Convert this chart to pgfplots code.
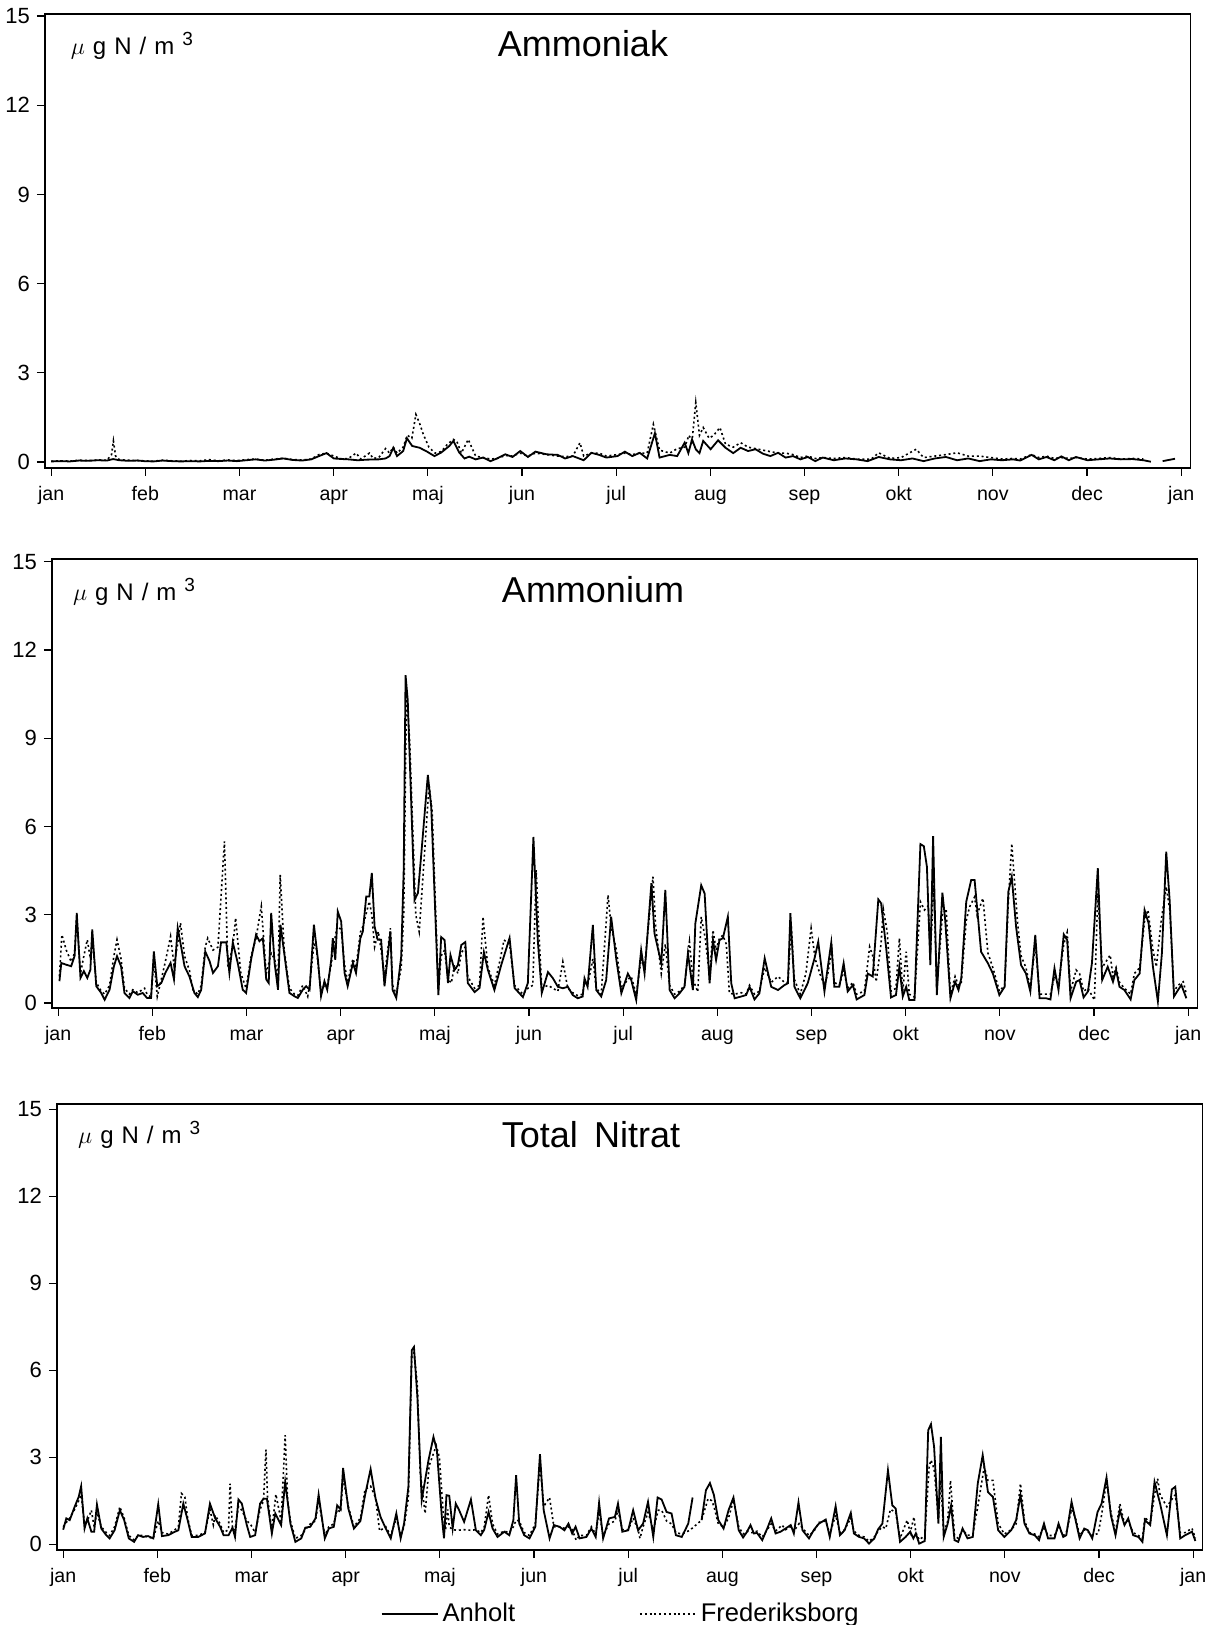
\documentclass[border=0pt]{standalone}
\usepackage{fontspec}
\setmainfont{Liberation Sans}
\usepackage{pgfplots}
\pgfplotsset{compat=1.18}

\pgfplotsset{
  panel/.style={
    scale only axis,
    width=572.75pt,
    xmin=-2, xmax=368,
    axis line style={line width=0.6pt},
    tick align=outside,
    tick pos=left,
    major tick length=4pt,
    every tick/.style={black, line width=0.6pt},
    ytick={0,3,6,9,12,15},
    xtick={0,30.4167,60.8333,91.25,121.6667,152.0833,182.5,212.9167,243.3333,273.75,304.1667,334.5833,365},
    xticklabels={jan,feb,mar,apr,maj,jun,jul,aug,sep,okt,nov,dec,jan},
    /pgf/number format/assume math mode=true,
    yticklabel style={font=\fontsize{11}{13}\selectfont},
    xticklabel style={font=\fontsize{9.8}{11}\selectfont, text height=1.6ex, text depth=0.45ex, yshift=-0.5pt},
    unbounded coords=jump,
  },
  anh/.style={black, line width=0.9pt},
  fre/.style={black, line width=0.8pt, dash pattern=on 1pt off 1.4pt},
}
\newcommand{\unitlabel}{$\mu$\hspace{4pt}g\hspace{4pt}N\hspace{4pt}/\hspace{4pt}m\hspace{4pt}\raisebox{0.75ex}{\fontsize{9.5}{10}\selectfont 3}}

\begin{document}
\begin{tikzpicture}
\useasboundingbox (0,0) rectangle (604pt,812.5pt);

% ---------------- Panel 1: Ammoniak ----------------
\begin{axis}[panel, at={(22.5pt,578.5pt)}, anchor=south west, height=227pt, ymin=-0.2, ymax=15.07]
\addplot[anh] coordinates {
(0,0.02)(3,0.03)(6,0.02)(9,0.05)(12,0.04)(15,0.06)(18,0.05)(20,0.1)(22,0.06)(25,0.04)(28,0.05)(30,0.03)(33,0.02)(36,0.05)(39,0.03)(42,0.02)(45,0.03)(48,0.02)(51,0.04)(54,0.03)(57,0.05)(60,0.03)(63,0.06)(66,0.09)(69,0.05)(72,0.08)(75,0.12)(78,0.07)(81,0.05)(84,0.09)(86.5,0.2)(88.9,0.3)(91.3,0.12)(94,0.1)(96,0.09)(99,0.06)(102,0.08)(105.8,0.09)(108,0.12)(109.3,0.2)(110.5,0.48)(111.7,0.2)(113.7,0.37)(114.9,0.8)(116.6,0.54)(119,0.48)(121.4,0.35)(123.8,0.2)(126,0.32)(128.6,0.54)(129.9,0.71)(131.8,0.32)(133.5,0.12)(135,0.18)(137.1,0.09)(139.5,0.15)(141.9,0.03)(144,0.12)(146.7,0.26)(149,0.17)(151.5,0.37)(154,0.17)(156.4,0.35)(160,0.26)(163.6,0.24)(166,0.12)(168.5,0.2)(172,0.06)(174.5,0.31)(177,0.24)(179.3,0.15)(182.9,0.2)(185.3,0.35)(187.7,0.2)(190.1,0.31)(192.5,0.12)(195,0.97)(196.5,0.15)(199.8,0.24)(202.2,0.2)(204.6,0.65)(205.8,0.3)(207,0.76)(208.2,0.43)(209.4,0.3)(210.6,0.71)(213,0.43)(215.4,0.73)(217.8,0.48)(220.3,0.3)(222.7,0.48)(225.1,0.37)(227.5,0.43)(229.9,0.28)(232.3,0.2)(234.8,0.31)(237.2,0.15)(239.6,0.2)(242,0.09)(244.4,0.17)(246.8,0.03)(249.2,0.15)(252.8,0.06)(256.5,0.12)(260.1,0.09)(263.7,0.03)(267.3,0.17)(270.9,0.09)(274.5,0.06)(278.2,0.12)(281.8,0.03)(285.4,0.12)(289,0.17)(292.6,0.06)(296.2,0.12)(299.9,0.03)(303.5,0.09)(307.1,0.06)(310.7,0.09)(313,0.05)(316.7,0.24)(319,0.09)(321.5,0.17)(324,0.06)(326.3,0.19)(328.7,0.06)(331,0.17)(334.7,0.06)(338.3,0.09)(341.9,0.12)(345.5,0.09)(349.2,0.1)(352.8,0.06)(355.2,0.01)(356,nan)(359,0.03)(361,0.07)(363,0.11)
};
\addplot[fre] coordinates {
(0,0.03)(3,0.04)(6,0.03)(9,0.06)(12,0.05)(15,0.07)(18,0.06)(19.5,0.25)(20.1,0.71)(20.8,0.2)(22,0.08)(25,0.06)(28,0.05)(30,0.04)(33,0.03)(36,0.06)(39,0.04)(42,0.03)(45,0.05)(48,0.04)(51,0.08)(54,0.04)(57,0.07)(60,0.05)(63,0.08)(66,0.1)(69,0.06)(72,0.1)(75,0.13)(78,0.08)(81,0.07)(84,0.1)(86.5,0.25)(88.9,0.3)(91.3,0.2)(94,0.1)(96,0.12)(98.5,0.3)(100,0.1)(102.8,0.3)(104,0.12)(105.8,0.15)(108,0.45)(109.3,0.3)(110.5,0.5)(111.7,0.3)(113.7,0.5)(115,0.9)(116.5,0.8)(117.8,1.6)(119,1.3)(120.2,0.93)(122,0.5)(124,0.3)(126,0.35)(128,0.6)(129.9,0.76)(131,0.7)(132.5,0.3)(134.7,0.76)(135.8,0.5)(137.1,0.2)(139.5,0.15)(141.9,0.1)(144,0.12)(146.7,0.22)(149,0.2)(151.5,0.3)(154,0.2)(156.4,0.3)(160,0.25)(163.6,0.2)(166,0.18)(168.5,0.2)(170.8,0.65)(172,0.2)(174.5,0.3)(177,0.3)(179.3,0.2)(182.9,0.25)(185.3,0.3)(187.7,0.25)(190.1,0.3)(192.5,0.3)(194.5,1.27)(196.5,0.4)(199.8,0.3)(202.2,0.45)(204.6,0.5)(206,0.9)(207,0.7)(208.2,2.0)(209.4,0.9)(210.6,1.16)(212.5,0.8)(214,0.9)(216,1.16)(217.8,0.6)(220.3,0.5)(222.7,0.65)(225.1,0.5)(227.5,0.45)(229.9,0.4)(232.3,0.35)(234.8,0.3)(237.2,0.3)(239.6,0.25)(242,0.15)(244.4,0.2)(246.8,0.12)(249.2,0.15)(252.8,0.12)(256.5,0.15)(260.1,0.1)(264.9,0.1)(267.3,0.31)(270.9,0.12)(274.5,0.15)(279.4,0.43)(281.8,0.15)(285.4,0.2)(289,0.25)(292.6,0.31)(296.2,0.2)(299.9,0.2)(303.5,0.15)(307.1,0.1)(310.7,0.12)(313,0.1)(316.7,0.25)(319,0.15)(321.5,0.2)(324,0.12)(326.3,0.15)(328.7,0.12)(331,0.15)(334.7,0.1)(338.3,0.12)(341.9,0.15)(345.5,0.1)(349.2,0.12)(352.8,0.1)
};
\end{axis}

% ---------------- Panel 2: Ammonium ----------------
\begin{axis}[panel, at={(26pt,308.5pt)}, anchor=south west, height=224.5pt, ymin=-0.17, ymax=15.09]
\addplot[anh] coordinates {
(0.4,0.74)(1,1.36)(2.6,1.3)(4.2,1.25)(5.3,1.6)(6,3.06)(7.2,0.85)(8.3,1.08)(9.4,0.85)(10.4,1.13)(11,2.5)(12.3,0.57)(13.9,0.34)(15,0.11)(16.6,0.45)(18,1.25)(19,1.59)(20.3,1.25)(21.4,0.34)(23,0.17)(24.1,0.4)(25.7,0.28)(27.3,0.34)(28.7,0.17)(30,0.17)(30.9,1.75)(32,0.57)(33.3,0.68)(34.6,1.02)(36.3,1.36)(37.4,0.8)(38.6,2.55)(39.7,1.92)(40.8,1.25)(42.4,0.9)(44,0.34)(45.1,0.2)(46.2,0.45)(47.5,1.75)(48.9,1.42)(50,1.02)(51.6,1.25)(52.6,2.06)(54.3,2.06)(55.3,1.02)(56.4,2.06)(58,1.36)(59.6,0.45)(60.7,0.34)(62.3,1.47)(63.9,2.32)(65,2.1)(66.1,2.2)(67.2,0.8)(68,0.68)(68.8,3.06)(69.9,1.36)(71,0.45)(71.8,2.66)(73,1.7)(74.7,0.34)(76.3,0.23)(77.4,0.17)(79,0.45)(80.1,0.57)(81.2,0.45)(82.6,2.66)(83.9,1.47)(84.9,0.23)(86,0.74)(86.9,0.45)(88.2,1.47)(88.7,2.2)(89.5,1.47)(90.3,3.11)(91.4,2.77)(92.5,1.02)(93.5,0.57)(95.2,1.36)(96.2,1.02)(97.6,2.2)(98.4,2.43)(99.5,3.62)(100.5,3.62)(101.3,4.42)(102.2,2.6)(103.2,2.15)(104.3,2.15)(105.4,0.57)(107.3,2.43)(108,0.45)(109.2,0.17)(110.8,1.59)(111.6,4.53)(112.2,11.14)(112.9,10.3)(115.1,3.5)(116.2,3.74)(117.2,4.96)(119.4,7.75)(120.5,6.66)(122.8,0.27)(123.7,2.24)(124.8,2.14)(125.9,0.68)(126.7,1.63)(128,1.12)(129.1,1.29)(130.2,1.97)(131.5,2.07)(132.3,0.68)(134.5,0.37)(136.1,0.51)(137.5,1.73)(138.8,1.12)(140.9,0.44)(143.1,1.29)(145.8,2.21)(147.4,0.51)(150.1,0.2)(151.7,0.68)(153.5,5.64)(154.9,2.14)(156.2,0.34)(158.2,1.05)(159.8,0.84)(161.4,0.55)(163,0.5)(164.6,0.55)(166.2,0.27)(167.8,0.16)(169.4,0.22)(170,0.84)(171,0.55)(172.7,2.65)(173.8,0.44)(175.4,0.22)(177,0.78)(178.6,2.93)(180.3,1.46)(181.9,0.33)(184,1.0)(185.1,0.78)(186.7,0.1)(188.3,1.8)(189.4,1.0)(191.6,4.07)(192.6,2.37)(194.8,1.35)(196.1,3.84)(197.5,0.44)(199.1,0.16)(200.7,0.33)(202.3,0.55)(203.4,1.69)(205,0.44)(205.8,2.7)(207.7,4.0)(208.8,3.72)(210.4,0.67)(211.5,2.14)(212.5,1.46)(213.6,2.14)(214.7,2.2)(216.3,2.93)(217.4,0.67)(218.5,0.16)(220.6,0.22)(222.2,0.27)(223.3,0.55)(224.9,0.12)(226.5,0.33)(228.2,1.52)(230.3,0.55)(232.5,0.44)(234.6,0.61)(235.7,0.67)(236.5,3.05)(237.8,0.55)(239.7,0.16)(242.1,0.67)(244.3,1.52)(245.5,2.08)(247.5,0.39)(248.6,1.23)(249.7,2.05)(250.7,0.55)(252.3,0.55)(253.7,1.35)(255,0.39)(256.7,0.61)(257.9,0.12)(260.4,0.27)(261.5,1.0)(263.1,0.9)(264.9,3.52)(265.8,3.39)(267.4,1.91)(269,0.19)(270.6,0.27)(271.7,1.23)(272.8,0.22)(273.9,0.55)(274.9,0.1)(276.6,0.1)(278.5,5.4)(279.6,5.33)(280.6,4.63)(281.7,1.29)(282.6,5.67)(283.8,0.27)(285.6,3.75)(286.5,2.82)(288.2,0.16)(289.7,0.72)(290.8,0.44)(291.7,0.84)(293.3,3.44)(294.9,4.18)(296,4.18)(298.1,1.74)(300.3,1.35)(301.9,1.0)(304,0.27)(305.7,0.55)(306.9,3.78)(308,4.29)(309.4,2.59)(311,1.29)(312.6,1.0)(314,0.39)(315.6,2.31)(317,0.16)(319.1,0.16)(320.5,0.12)(321.8,1.18)(323.1,0.44)(324.8,2.33)(325.9,2.14)(327,0.16)(328.8,0.72)(329.9,0.78)(331.2,0.19)(332.6,0.39)(333.9,1.35)(335.8,4.58)(337.2,0.78)(339,1.23)(340.7,0.72)(341.7,1.12)(342.8,0.55)(344.4,0.44)(346.4,0.12)(347.6,0.78)(349.3,1.0)(350.9,3.16)(352.2,2.71)(353.6,1.23)(355.2,0.05)(356.5,1.69)(357.9,5.14)(359,3.5)(360.4,0.22)(361.7,0.44)(362.8,0.61)(364.4,0.16)
};
\addplot[fre] coordinates {
(0.4,0.9)(1.2,2.32)(2.6,1.8)(4.2,1.4)(5.3,1.7)(6,2.9)(7.2,1.0)(8.3,1.6)(9.4,2.15)(10.4,1.5)(11,2.2)(12.3,0.7)(13.9,0.4)(15,0.3)(16.6,0.6)(18,1.6)(19,2.15)(20.3,1.5)(21.4,0.5)(23,0.3)(24.1,0.45)(25.7,0.35)(27.9,0.5)(28.7,0.3)(30,0.2)(30.9,1.5)(32,0.22)(33.3,0.8)(34.6,1.4)(36.3,2.26)(37.4,1.3)(38.6,2.0)(39.5,2.72)(40.8,1.6)(42.4,1.1)(43.5,0.45)(45.1,0.3)(46.2,0.6)(47.5,1.9)(48.3,2.2)(50,1.8)(51.6,1.9)(53.7,5.49)(54.8,1.23)(56.4,1.9)(57.3,2.89)(59,1.0)(60.7,0.5)(62.3,1.6)(63.9,2.2)(65.6,3.28)(67.2,1.0)(68.8,1.69)(69.9,1.5)(71,0.8)(71.7,4.36)(73,1.8)(74.7,0.5)(76.3,0.3)(77.4,0.25)(79,0.6)(80.6,0.22)(81.2,0.6)(82.6,2.0)(83.3,1.91)(84.9,0.4)(86,0.6)(86.9,0.6)(88.2,1.3)(88.7,1.8)(90.1,2.6)(91.4,2.5)(92.5,1.3)(93.5,0.7)(95.2,1.5)(96.2,1.2)(97.6,2.4)(98.4,2.6)(100.5,3.45)(101.3,3.0)(102.2,1.91)(103.4,2.43)(104.3,1.8)(105.4,0.9)(107.3,2.54)(108,0.6)(109.2,0.3)(110.8,1.2)(111.6,3.0)(112.5,10.5)(113.5,9.0)(115.5,3.0)(116.6,2.42)(117.5,3.8)(119.8,7.4)(120.8,6.5)(122.8,0.5)(123.7,1.6)(124.8,1.8)(125.9,0.8)(127,0.68)(128,1.3)(129.1,1.0)(130.2,1.7)(131.5,1.9)(132.3,0.9)(134.5,0.5)(136.1,0.6)(137.2,2.93)(138.8,1.2)(140.9,0.6)(142.8,1.5)(144,2.14)(145.8,2.0)(147.4,0.6)(150.1,0.3)(151.7,0.5)(153.3,0.6)(154.4,4.52)(155.2,2.5)(156.2,0.5)(158.2,0.6)(159.8,0.5)(161.4,0.4)(163,1.4)(164.6,0.5)(166.2,0.35)(167.8,0.25)(169.4,0.3)(170,0.7)(171,0.6)(172.7,1.5)(173.8,0.5)(175.4,0.3)(177.6,3.67)(178.6,2.6)(180.3,1.8)(181.9,0.5)(184,0.8)(185.1,0.9)(186.7,0.3)(188.3,1.5)(189.4,1.2)(192.1,4.29)(193,2.6)(194.8,1.0)(196.1,2.0)(197.5,0.6)(199.1,0.3)(200.7,0.4)(202.3,0.6)(203.9,2.08)(205,0.8)(206.6,0.38)(207.7,2.93)(209,2.2)(210.4,0.9)(211.5,2.48)(212.5,1.8)(213.6,2.2)(214.7,2.3)(215.8,2.0)(216.8,0.33)(218.5,0.3)(220.6,0.35)(222.2,0.3)(223.3,0.6)(224.9,0.3)(226.5,0.4)(228.2,1.2)(230.3,0.7)(232.5,0.9)(234.6,0.7)(235.7,0.7)(236.8,2.6)(237.8,0.8)(239.7,0.3)(241.5,1.0)(243.2,2.54)(244.5,1.5)(246,1.0)(247.5,0.6)(248.6,1.0)(249.9,1.8)(250.7,0.7)(252.3,0.6)(253.7,1.1)(255,0.5)(256.7,0.7)(257.9,0.3)(260.4,0.4)(262.1,1.91)(263.1,1.6)(264.2,0.72)(265.8,2.03)(266.5,3.2)(267.8,2.4)(269,0.4)(270.6,0.5)(271.7,2.2)(272.8,0.4)(273.9,1.74)(274.9,0.3)(276.6,0.2)(278.5,3.44)(279.8,3.16)(281,3.3)(281.7,1.6)(282.8,4.0)(283.8,0.5)(285.6,3.0)(286.8,3.2)(288.2,0.3)(289.7,0.9)(290.8,0.6)(291.7,0.7)(293.3,2.8)(294.4,3.27)(296,3.6)(296.8,3.0)(298.7,3.56)(300.3,1.7)(301.9,1.2)(304,0.4)(305.7,0.6)(306.9,3.4)(308,5.42)(309.9,2.71)(311,1.6)(312.6,1.2)(314,0.5)(315.6,2.0)(317,0.3)(319.1,0.3)(320.5,0.3)(321.8,0.9)(323.1,0.6)(324.8,2.0)(325.9,2.4)(327,0.4)(328.8,1.12)(329.9,1.0)(331.2,0.4)(332.6,0.5)(334.7,0.1)(335.8,3.73)(337.2,1.2)(339.8,1.63)(340.7,0.9)(341.7,1.2)(342.8,0.7)(344.4,0.5)(346.4,0.3)(347.6,1.0)(349.3,1.2)(350.9,2.8)(352,3.16)(353.6,1.8)(354.7,1.23)(356.3,2.82)(357.9,3.95)(359,3.2)(360.4,0.4)(361.7,0.6)(363.4,0.72)(364.4,0.3)
};
\end{axis}

% ---------------- Panel 3: Total Nitrat ----------------
\begin{axis}[panel, at={(28.5pt,37.5pt)}, anchor=south west, height=223pt, ymin=-0.2, ymax=15.18,
  legend style={at={(axis description cs:0.493,-0.143)}, anchor=center, draw=none, fill=none,
    legend columns=2, font=\fontsize{12.8}{14}\selectfont,
    /tikz/every even column/.append style={column sep=60pt}},
  legend image code/.code={\draw[#1] (0pt,0pt) -- (28pt,0pt);}]
\addplot[anh] coordinates {
(0,0.5)(1,0.89)(2.1,0.83)(3.7,1.29)(5,1.63)(5.8,2.0)(6.9,0.54)(7.8,0.89)(9.1,0.43)(10,0.43)(10.9,1.37)(12.3,0.54)(13.9,0.31)(15,0.2)(16.6,0.48)(18.3,1.17)(19.7,0.83)(21.2,0.2)(22.9,0.08)(24.2,0.31)(25.8,0.25)(27.4,0.28)(29.1,0.2)(30.7,1.38)(31.9,0.28)(33.9,0.31)(36.1,0.43)(37.2,0.48)(38.8,1.4)(40.2,0.83)(41.5,0.25)(43.6,0.25)(45.8,0.37)(47.4,1.4)(49.1,0.89)(50.7,0.6)(51.8,0.31)(53.4,0.31)(54.7,0.57)(55.5,0.25)(56.6,1.54)(57.7,1.4)(59.3,0.66)(60.4,0.25)(62,0.31)(63.6,1.4)(64.7,1.57)(65.8,1.57)(67.4,0.37)(68.5,1.06)(70.4,0.66)(71.7,2.15)(73.4,0.71)(75,0.08)(76.9,0.2)(78.2,0.57)(79.8,0.6)(81.5,0.89)(82.5,1.71)(84.5,0.2)(85.8,0.54)(87.4,0.6)(88.5,1.34)(89.6,1.2)(90.4,2.63)(92.1,1.23)(93.9,0.54)(96,0.8)(97.5,1.69)(99.3,2.59)(100.9,1.57)(102.5,0.94)(104.2,0.54)(105.8,0.2)(107.6,1.06)(109,0.2)(110.1,0.71)(111.5,1.98)(112.6,6.69)(113.3,6.8)(114.4,5.08)(115.8,1.52)(118,2.9)(119.6,3.7)(120.7,3.24)(122.3,0.94)(123,0.2)(123.8,1.69)(124.7,1.67)(125.8,0.54)(126.8,1.4)(127.9,1.17)(129.5,0.77)(131.7,1.54)(133.3,0.48)(134.9,0.31)(136,0.5)(137.4,1.11)(138.7,0.54)(140.3,0.25)(142.5,0.43)(144.1,0.31)(145.4,0.83)(146.3,2.38)(147.3,0.71)(148.9,0.31)(150.6,0.2)(152.5,0.6)(154,3.1)(155.2,1.17)(157.1,0.2)(158.5,0.66)(160.3,0.6)(161.9,0.48)(163.2,0.71)(164.4,0.37)(165.5,0.6)(166.8,0.2)(169,0.25)(170.6,0.54)(172,0.25)(173.1,1.43)(174.4,0.2)(176.3,0.89)(178.2,0.94)(179.2,1.4)(180.6,0.43)(182.5,0.48)(184.1,1.17)(185.7,0.48)(187.3,0.71)(188.9,1.46)(190.6,0.25)(192,1.61)(193.3,1.54)(194.9,1.11)(196.5,1.06)(197.9,0.31)(199.8,0.25)(201.9,0.71)(203.3,1.61)(204,nan)(206.2,0.83)(207.6,1.86)(208.9,2.11)(210.2,1.69)(211.6,0.83)(213.3,0.54)(214.9,1.17)(216.5,1.61)(218.2,0.48)(219.6,0.23)(220.9,0.43)(222,0.66)(223.1,0.37)(224.1,0.39)(225.8,0.14)(227.4,0.54)(228.7,0.89)(230.1,0.37)(231.7,0.43)(233.3,0.54)(235,0.66)(236,0.37)(237.5,1.44)(238.8,0.48)(240.9,0.2)(242.5,0.5)(244.1,0.71)(246.3,0.85)(247.6,0.25)(249.5,1.31)(250.9,0.31)(252.4,0.48)(254.4,1.08)(255.4,0.37)(257.1,0.25)(258.7,0.2)(260.3,0.02)(262,0.2)(263.2,0.51)(264.6,0.71)(266.4,2.55)(267.8,1.34)(268.9,1.23)(270.3,0.08)(272.1,0.25)(273.6,0.43)(274.6,0.2)(275.4,0.37)(276.5,0.02)(278.3,0.11)(279.4,3.93)(280.3,4.14)(281.3,3.36)(282.7,0.71)(283.5,3.7)(284.4,0.25)(285.7,0.71)(286.8,1.34)(287.9,0.14)(289.1,0.08)(290.5,0.54)(292.1,0.2)(293.8,0.25)(295.4,2.09)(297,3.07)(298.7,1.8)(300.3,1.63)(302,0.48)(304,0.25)(306.2,0.48)(307.8,0.83)(309.2,1.69)(310.5,0.71)(312.1,0.37)(313.8,0.31)(315.2,0.14)(316.8,0.71)(318.1,0.2)(320.2,0.2)(321.5,0.71)(323,0.25)(324,0.31)(325.7,1.46)(327,0.83)(328.3,0.2)(329.8,0.54)(331,0.48)(332.4,0.2)(334.1,1.11)(335.4,1.4)(337,2.3)(338.4,1.0)(339.9,0.31)(341.3,1.17)(342.8,0.66)(344,0.89)(345.6,0.31)(347.3,0.25)(348.6,0.08)(349.4,0.83)(351.1,0.66)(352.5,2.15)(354.3,1.4)(356.5,0.31)(358.1,1.89)(359.2,1.98)(360.8,0.2)(362.4,0.31)(364.6,0.43)(365.7,0.11)
};
\addlegendentry{Anholt}
\addplot[fre] coordinates {
(0,0.6)(1,0.75)(2.1,0.9)(3.7,1.2)(5,1.5)(5.8,1.7)(6.9,0.7)(7.8,0.8)(9.1,1.17)(10,0.6)(10.9,1.1)(12.3,0.6)(13.9,0.4)(15,0.3)(16.6,0.6)(18.3,1.29)(19.7,0.9)(21.2,0.3)(22.9,0.15)(24.2,0.3)(25.8,0.3)(27.4,0.25)(29.1,0.2)(30.7,0.8)(31.9,0.4)(33.9,0.35)(36.1,0.5)(37.2,0.6)(38.2,1.75)(39.3,1.63)(40.2,0.9)(41.5,0.3)(43.6,0.3)(45.8,0.4)(47.4,1.2)(48.5,0.66)(49.1,1.0)(50.7,0.7)(51.8,0.4)(53.4,0.5)(53.9,2.09)(54.7,0.5)(55.5,0.5)(56.6,1.3)(57.7,1.17)(59.3,0.8)(60.4,0.71)(62,0.4)(63.6,1.2)(64.7,1.5)(65.5,3.26)(66,1.6)(67.4,0.5)(68.7,1.72)(70.4,0.8)(71.7,3.76)(72.5,1.5)(73.4,0.8)(75,0.2)(76.9,0.3)(78.2,0.5)(79.8,0.7)(81.5,0.8)(82.5,1.52)(84.5,0.3)(85.8,0.6)(87.4,0.7)(88.5,1.2)(89.6,1.1)(90.4,2.3)(92.1,1.3)(93.9,0.6)(96,0.9)(97.5,1.89)(99.3,2.0)(100.9,1.6)(102.2,0.46)(104.2,0.6)(105.8,0.3)(107.6,0.9)(109,0.3)(110.1,0.6)(111.5,1.6)(112.6,6.5)(113.3,6.6)(114.4,5.5)(115.3,2.5)(116.9,1.06)(118.2,2.7)(120.5,3.4)(121.5,3.0)(122.8,1.0)(123.5,0.5)(124.2,1.2)(124.7,0.6)(125.8,0.5)(127.3,0.48)(129.5,0.5)(131.7,0.48)(133.3,0.5)(134.9,0.4)(136,0.6)(137.4,1.69)(138.7,0.7)(140.3,0.35)(142.5,0.45)(144.1,0.4)(145.4,0.6)(146.3,0.83)(147.3,0.8)(148.9,0.4)(150.6,0.3)(152.5,0.7)(154,2.78)(155.2,1.3)(157.1,1.61)(158.5,0.6)(160.3,0.6)(161.9,0.55)(163.2,0.6)(164.4,0.5)(165.7,0.14)(166.8,0.3)(169,0.3)(170.6,0.6)(172,0.35)(173.1,1.11)(174.4,0.3)(176.3,0.7)(178.2,0.8)(179.2,1.17)(180.6,0.5)(182.5,0.5)(184.1,0.9)(185.7,0.5)(186.3,0.2)(187.3,0.6)(188.9,1.1)(190.6,0.5)(192.2,1.17)(193.3,1.17)(194.9,0.8)(196.5,0.7)(197.9,0.4)(199.8,0.35)(202.4,0.48)(206.2,0.83)(208.3,1.57)(209.5,1.5)(210.2,1.3)(211.6,0.7)(213.3,0.6)(214.9,0.9)(216.5,1.52)(218.2,0.6)(219.6,0.35)(220.9,0.45)(222,0.4)(223.1,0.4)(224.1,0.45)(225.8,0.25)(227.4,0.5)(228.7,0.7)(230.1,0.45)(232.2,0.66)(233.3,0.5)(235,0.6)(236,0.45)(237.7,0.71)(238.8,0.55)(240.9,0.3)(242.5,0.45)(244.1,0.75)(246.3,0.8)(247.6,0.35)(249.5,1.0)(250.9,0.4)(252.4,0.5)(254.4,0.9)(255.4,0.45)(257.1,0.3)(258.7,0.25)(260.3,0.1)(262,0.25)(263.2,0.45)(264.6,0.6)(265.7,0.54)(267.2,1.2)(268.9,1.1)(270.3,0.2)(272.6,0.83)(273.6,0.4)(274.8,0.94)(275.4,0.4)(276.5,0.15)(278.3,0.3)(279.7,2.67)(280.3,2.9)(281.3,2.6)(282.7,0.9)(283.5,2.2)(284.4,0.4)(285.7,0.8)(286.6,2.2)(287.9,0.3)(289.1,0.2)(290.5,0.5)(292.1,0.3)(293.8,0.35)(295.4,1.29)(297.5,2.67)(298.7,2.2)(300.3,2.2)(302,0.71)(304,0.35)(306.2,0.5)(307.8,0.7)(309.2,2.09)(310.5,0.8)(312.1,0.4)(313.8,0.35)(315.2,0.25)(316.8,0.6)(318.1,0.3)(320.2,0.3)(321.5,0.6)(323,0.3)(324,0.4)(325.7,1.2)(327,0.9)(328.3,0.3)(329.8,0.5)(331,0.43)(332.4,0.3)(334.3,0.37)(335.4,1.0)(337,2.2)(338.4,1.1)(339.9,0.4)(341.3,1.4)(342.8,0.7)(344,0.8)(345.6,0.4)(347.3,0.3)(348.6,0.2)(349.4,0.94)(351.1,0.7)(352.5,1.7)(353.5,2.26)(354.3,1.7)(356.5,1.29)(358.6,1.63)(359.2,1.7)(360.8,0.4)(362.4,0.4)(364.6,0.55)(365.7,0.2)
};
\addlegendentry{Frederiksborg}
\end{axis}

% Titles and unit labels
\node[anchor=base, font=\fontsize{18}{20}\selectfont] at (291.5pt,784pt) {Ammoniak};
\node[anchor=base, font=\fontsize{18}{20}\selectfont] at (296.5pt,511pt) {Ammonium};
\node[anchor=base, font=\fontsize{18}{20}\selectfont] at (295.5pt,238.5pt) {Total\hspace{0.45em}Nitrat};
\node[anchor=base west, inner sep=0pt, font=\fontsize{12}{14}\selectfont] at (35.2pt,785pt) {\unitlabel};
\node[anchor=base west, inner sep=0pt, font=\fontsize{12}{14}\selectfont] at (36.3pt,512pt) {\unitlabel};
\node[anchor=base west, inner sep=0pt, font=\fontsize{12}{14}\selectfont] at (38.9pt,240.5pt) {\unitlabel};
\end{tikzpicture}
\end{document}
